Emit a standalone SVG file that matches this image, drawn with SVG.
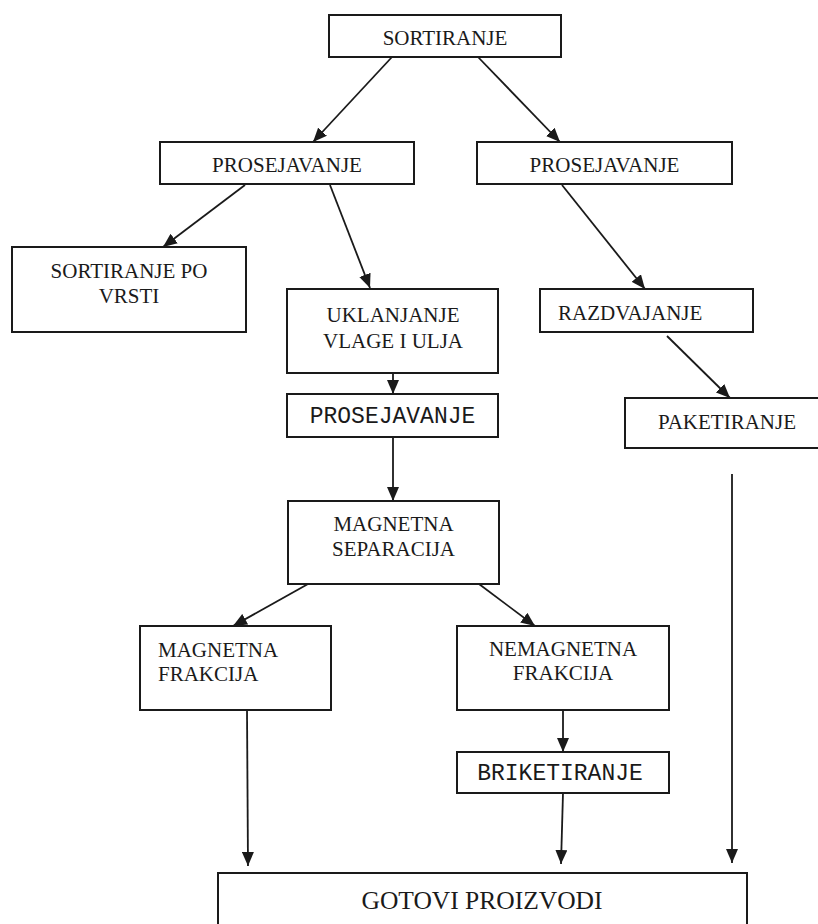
<svg xmlns="http://www.w3.org/2000/svg" width="818" height="924" viewBox="0 0 818 924">
<style>
.box{fill:#fff;stroke:#1a1a1a;stroke-width:2}
.t{font-family:"Liberation Serif","Times New Roman",serif;font-size:21px;fill:#1a1a1a}
.m{font-family:"Liberation Mono","Courier New",monospace;font-size:23px;fill:#1a1a1a}
.big{font-size:25.5px}
.c{text-anchor:middle}
.e{stroke:#1a1a1a;stroke-width:1.8;fill:none;marker-end:url(#ah)}
</style>
<defs>
<marker id="ah" markerUnits="userSpaceOnUse" markerWidth="14" markerHeight="12" refX="14" refY="6" orient="auto" viewBox="0 0 14 12">
<path d="M0,0 L14,6 L0,12 z" fill="#1a1a1a"/>
</marker>
</defs>
<rect width="818" height="924" fill="#fff"/>
<g id="connectors">
<line class="e" x1="392" y1="57" x2="313" y2="142"/>
<line class="e" x1="478" y1="57" x2="560" y2="142"/>
<line class="e" x1="245" y1="185" x2="163" y2="247"/>
<line class="e" x1="330" y1="185" x2="370" y2="288"/>
<line class="e" x1="562" y1="185" x2="645" y2="289"/>
<line class="e" x1="667" y1="336" x2="730" y2="398"/>
<line class="e" x1="393" y1="373" x2="393" y2="394"/>
<line class="e" x1="393" y1="437" x2="393" y2="501"/>
<line class="e" x1="308" y1="584" x2="233" y2="626"/>
<line class="e" x1="479" y1="584" x2="535" y2="626"/>
<line class="e" x1="563" y1="710" x2="563" y2="752"/>
<line class="e" x1="247" y1="710" x2="248" y2="866"/>
<line class="e" x1="563" y1="793" x2="561" y2="864"/>
<line class="e" x1="732" y1="474" x2="732" y2="863"/>
</g>
<g id="n-sortiranje">
<rect class="box" x="329" y="15" width="232" height="42"/>
<text class="t c" x="445" y="45">SORTIRANJE</text>
</g>
<g id="n-prosejavanje-left">
<rect class="box" x="160" y="142" width="254" height="42"/>
<text class="t c" x="287" y="172">PROSEJAVANJE</text>
</g>
<g id="n-prosejavanje-right">
<rect class="box" x="477" y="142" width="255" height="42"/>
<text class="t c" x="604.5" y="172">PROSEJAVANJE</text>
</g>
<g id="n-sortiranje-po-vrsti">
<rect class="box" x="12" y="247" width="234" height="85"/>
<text class="t c" x="129" y="278">SORTIRANJE PO</text>
<text class="t c" x="129" y="303">VRSTI</text>
</g>
<g id="n-uklanjanje">
<rect class="box" x="287" y="289" width="211" height="84"/>
<text class="t c" x="393" y="322">UKLANJANJE</text>
<text class="t c" x="393" y="348">VLAGE I ULJA</text>
</g>
<g id="n-razdvajanje">
<rect class="box" x="540" y="289" width="213" height="43"/>
<text class="t" x="558" y="320">RAZDVAJANJE</text>
</g>
<g id="n-prosejavanje-mono">
<rect class="box" x="287" y="394" width="211" height="43"/>
<text class="m c" x="392.5" y="423">PROSEJAVANJE</text>
</g>
<g id="n-paketiranje">
<rect class="box" x="625" y="398" width="205" height="50"/>
<text class="t c" x="727" y="429">PAKETIRANJE</text>
</g>
<g id="n-magnetna-separacija">
<rect class="box" x="288" y="501" width="211" height="83"/>
<text class="t c" x="393.5" y="531">MAGNETNA</text>
<text class="t c" x="393.5" y="556">SEPARACIJA</text>
</g>
<g id="n-magnetna-frakcija">
<rect class="box" x="140" y="626" width="191" height="84"/>
<text class="t" x="158" y="657">MAGNETNA</text>
<text class="t" x="158" y="681">FRAKCIJA</text>
</g>
<g id="n-nemagnetna-frakcija">
<rect class="box" x="457" y="626" width="212" height="84"/>
<text class="t c" x="563" y="656">NEMAGNETNA</text>
<text class="t c" x="563" y="680">FRAKCIJA</text>
</g>
<g id="n-briketiranje">
<rect class="box" x="457" y="752" width="212" height="41"/>
<text class="m c" x="560" y="780">BRIKETIRANJE</text>
</g>
<g id="n-gotovi-proizvodi">
<rect class="box" x="218" y="873" width="529" height="60"/>
<text class="t big c" x="482" y="909">GOTOVI PROIZVODI</text>
</g>
</svg>
